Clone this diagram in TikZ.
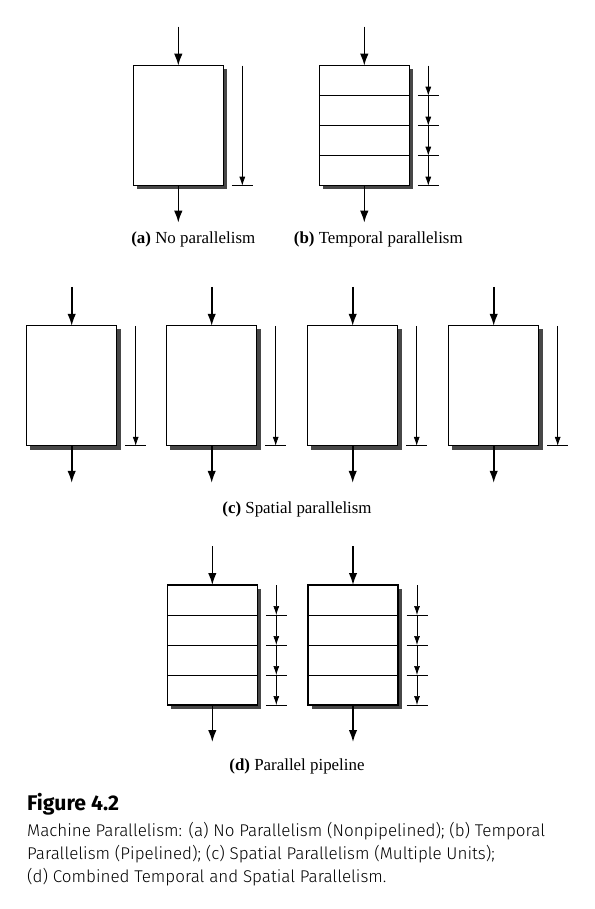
\documentclass[tikz,border=0pt]{standalone}
\usepackage{fontspec}
\usepackage{graphicx}
\setmainfont{Liberation Serif}
\newfontfamily\capfont{Fira Sans Light}
\newfontfamily\figfont{Fira Sans}
\usetikzlibrary{arrows.meta,calc}

\tikzset{
  unitbox/.style={draw, fill=white, line width=1.2pt, minimum width=90pt,
    minimum height=120pt, inner sep=0pt, outer sep=0pt, anchor=north west},
  shadowbox/.style={fill=black!72},
  flow/.style={line width=1.6pt, -{Latex[length=12pt,width=8.5pt]}},
  timeline/.style={line width=0.7pt, -{Latex[length=9pt,width=6pt]}},
  timetick/.style={line width=1pt},
  stageline/.style={line width=1pt},
  sublabel/.style={anchor=base, inner sep=0pt, font=\fontsize{16.9}{20}\selectfont},
  caption/.style={anchor=base west, inner sep=0pt},
}

% #1 name, #2 left x, #3 top y, #4 number of stages
\newcommand\procunit[4]{%
  \fill[shadowbox] ($(#2,#3)+(3.5,3.5)$) rectangle ($(#2,#3)+(93.8,123.8)$);
  \node[unitbox] (#1) at (#2,#3) {};
  \coordinate (#1-in) at ($(#1.north)+(0,-39)$);
  \coordinate (#1-out) at ($(#1.south)+(0,37)$);
  \draw[flow] (#1-in) -- (#1.north);
  \draw[flow] (#1.south) -- (#1-out);
  \pgfmathsetmacro\segh{120/#4}
  \foreach \k in {0,...,#4}{\coordinate (#1-t\k) at ($(#1.north east)+(19,\k*\segh)$);}
  \foreach \k in {1,...,#4}{%
    \pgfmathtruncatemacro\pk{\k-1}
    \draw[timeline] (#1-t\pk) -- (#1-t\k);
    \draw[timetick] ($(#1-t\k)+(-10.5,0)$) -- ($(#1-t\k)+(10.5,0)$);
  }
  \ifnum#4>1
    \foreach \k in {1,...,\numexpr#4-1\relax}{%
      \draw[stageline] ($(#1.north west)+(0,\k*\segh)$) -- ($(#1.north east)+(0,\k*\segh)$);
    }
  \fi
}

\newsavebox\capboxA
\newsavebox\figbox
\newlength\capw
\newlength\figw

\begin{document}
\sbox\capboxA{\capfont\fontsize{15}{18}\selectfont Machine Parallelism: (a) No Parallelism (Nonpipelined); (b) Temporal}%
\setlength\capw{\wd\capboxA}%
\pgfmathsetmacro\capsc{518/\capw}%
\sbox\figbox{\figfont\bfseries\fontsize{18}{20}\selectfont Figure 4.2}%
\setlength\figw{\wd\figbox}%
\pgfmathsetmacro\figsc{92/\figw}%
\begin{tikzpicture}[x=1pt,y=-1pt]
  \fill[white] (0,0) rectangle (594,909);
  \useasboundingbox (0,0) rectangle (594,909);

  % (a) and (b)
  \procunit{a}{133.3}{65.7}{1}
  \procunit{b}{319.3}{65.7}{4}
  \node[sublabel] (la) at (193.3,243.3) {\textbf{(a)} No parallelism};
  \node[sublabel] (lb) at (378.3,243.3) {\textbf{(b)} Temporal parallelism};

  % (c)
  \procunit{c1}{26.7}{325.8}{1}
  \procunit{c2}{166.7}{325.8}{1}
  \procunit{c3}{307.7}{325.8}{1}
  \procunit{c4}{448.7}{325.8}{1}
  \node[sublabel] (lc) at (297,513) {\textbf{(c)} Spatial parallelism};

  % (d)
  \procunit{d1}{167.3}{585}{4}
  \procunit{d2}{308}{585}{4}
  \node[sublabel] (ld) at (297,770) {\textbf{(d)} Parallel pipeline};

  % caption
  \node[caption] (fig) at (27,810) {\scalebox{\figsc}{\usebox\figbox}};
  \node[caption] (cap1) at (27,836) {\scalebox{\capsc}{\usebox\capboxA}};
  \node[caption] (cap2) at (27,859) {\scalebox{\capsc}{\capfont\fontsize{15}{18}\selectfont Parallelism (Pipelined); (c) Spatial Parallelism (Multiple Units);}};
  \node[caption] (cap3) at (27,882) {\scalebox{\capsc}{\capfont\fontsize{15}{18}\selectfont (d) Combined Temporal and Spatial Parallelism.}};
\end{tikzpicture}
\end{document}
